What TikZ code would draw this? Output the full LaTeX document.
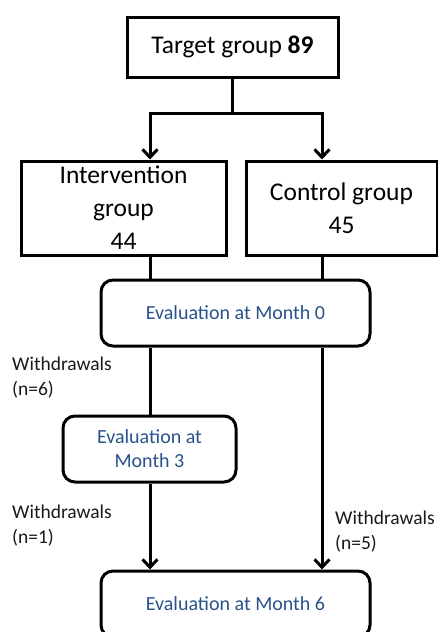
\documentclass[tikz,border=0pt]{standalone}
\usepackage{fontspec}
\setmainfont{Carlito}
\usetikzlibrary{arrows.meta}

\begin{document}
\begin{tikzpicture}
[x = 1pt, y = -1pt,
 group/.style      = {draw, line width = 3pt, align = center, inner sep = 0pt,
                      font = \fontsize{25.5}{33}\selectfont},
 evaluation/.style = {draw, line width = 3pt, rounded corners = 12pt, align = center,
                      inner sep = 0pt, text = evalcolor, font = \fontsize{20}{24}\selectfont},
 withdrawal/.style = {anchor = west, align = left, inner sep = 0pt, text = black!90,
                      font = \fontsize{19.5}{25}\selectfont},
 link/.style       = {line width = 3pt},
 arrow/.style      = {link, -{Straight Barb[length = 8pt, width = 15pt]}}]

% Define colors
\definecolor{evalcolor}{RGB}{40,82,140}

\useasboundingbox (0,0) rectangle (438,632);
\clip (0,0) rectangle (438,632);

% the two columns
\coordinate (leftcol)  at (150,0);
\coordinate (rightcol) at (322,0);

%%%%%%%%%% GROUPS
\node[group, minimum width = 211pt, minimum height = 60pt] (target) at (232.5,47) {Target group \textbf{89}};
\node[group, minimum width = 205pt, minimum height = 94pt] (interv) at (123.5,208) {Intervention\\ group\\ 44};
\node[group, minimum width = 191pt, minimum height = 94pt] (control) at (341.5,208) {Control group\\ 45};

%%%%%%%%%% EVALUATIONS
\node[evaluation, minimum width = 269pt, minimum height = 66pt] (eval0) at (235.5,313) {Evaluation at Month 0};
\node[evaluation, minimum width = 173pt, minimum height = 66pt] (eval3) at (149.5,449) {Evaluation at\\ Month 3};
\node[evaluation, minimum width = 269pt, minimum height = 66pt] (eval6) at (235.5,604) {Evaluation at Month 6};

%%%%%%%%%% WITHDRAWALS
\node[withdrawal] (wd6) at (12,377.5) {Withdrawals\\ (n=6)};
\node[withdrawal] (wd1) at (12,526)   {Withdrawals\\ (n=1)};
\node[withdrawal] (wd5) at (335,531.5) {Withdrawals\\ (n=5)};

%%%%%%%%%% CONNECTIONS
\coordinate (split) at (232.5,113);
\draw[link]  (target.south) -- (split);
\draw[arrow] (split) -| (interv.north -| leftcol);
\draw[arrow] (split) -| (control.north -| rightcol);
\draw[link]  (interv.south -| leftcol) -- (eval0.north -| leftcol);
\draw[link]  (control.south -| rightcol) -- (eval0.north -| rightcol);
\draw[link]  (eval0.south -| leftcol) -- (eval3.north -| leftcol);
\draw[arrow] (eval3.south -| leftcol) -- (eval6.north -| leftcol);
\draw[arrow] (eval0.south -| rightcol) -- (eval6.north -| rightcol);

\end{tikzpicture}
\end{document}
